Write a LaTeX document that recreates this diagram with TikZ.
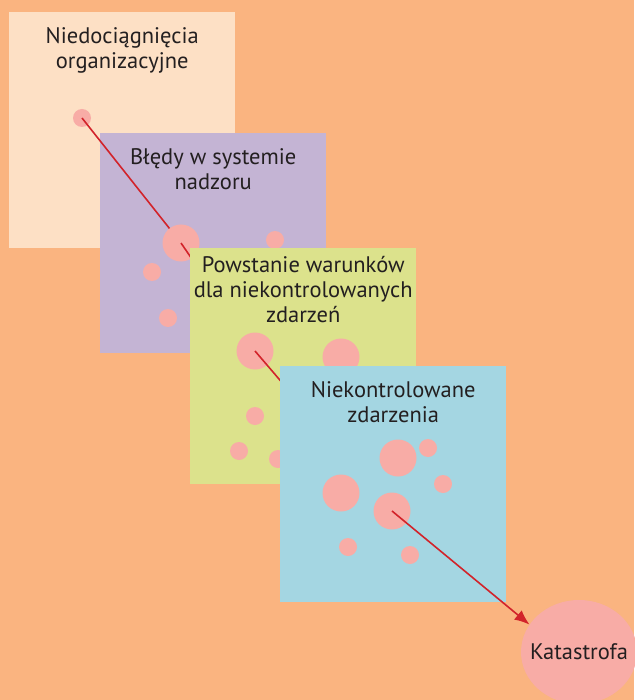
\documentclass[tikz,border=0pt]{standalone}
\usepackage{fontspec}
\setmainfont{PT Sans}
\usetikzlibrary{positioning, shapes.geometric, arrows.meta}
\definecolor{bgorange}{HTML}{FAB480}
\definecolor{peach}{HTML}{FDE0C5}
\definecolor{lavender}{HTML}{C4B4D4}
\definecolor{limegreen}{HTML}{DCE28C}
\definecolor{skyblue}{HTML}{A4D6E2}
\definecolor{spotpink}{HTML}{F8ACA6}
\definecolor{linkred}{HTML}{D2232A}
\definecolor{darktext}{HTML}{231F20}
\tikzset{
	panel/.style={draw=none, inner sep=0pt, minimum width=226pt, anchor=north west}
}
\tikzset{
	spot/.style={circle, fill=spotpink, inner sep=0pt, minimum size=18pt},
	bigspot/.style={spot, minimum size=37pt}
}
\tikzset{
	paneltext/.style={font=\fontsize{22.5}{25}\selectfont\color{darktext}, align=center, anchor=north, inner sep=0pt},
	link/.style={draw=linkred, line width=1.6pt}
}

\begin{document}
\begin{tikzpicture}[x=1pt, y=-1pt]
      \useasboundingbox[fill=bgorange] (0,0) rectangle (634,700);
      % organisational layer
      \node[panel, fill=peach, minimum height=236pt] (p1) at (9,12) {};
      \node[paneltext] (t1) at ([yshift=-15pt]p1.north) {Niedociągnięcia\\organizacyjne};
      \node[spot] (s1) at (82,118) {};
      % supervision layer
      \node[panel, fill=lavender, minimum height=220pt] (p2) at (100,133) {};
      \node[paneltext] (t2) at ([yshift=-15.5pt]p2.north) {Błędy w systemie\\nadzoru};
      \draw[link] (s1.center) -- (181,243);
      \node[bigspot] (b2) at (181,243) {};
      \node[spot] (s2a) at (275,240) {};
      \node[spot] (s2b) at (152,272) {};
      \node[spot] (s2c) at (168,318) {};
      \draw[link] (b2.center) -- (255,351);
      % conditions layer
      \node[panel, fill=limegreen, minimum height=236pt] (p3) at (190,248) {};
      \node[paneltext] (t3) at ([yshift=-8.5pt]p3.north) {Powstanie warunków\\dla niekontrolowanych\\zdarzeń};
      \node[bigspot] (b3) at (255,351) {};
      \node[bigspot] (b3a) at (341,357) {};
      \node[spot] (s3a) at (255,416) {};
      \node[spot] (s3b) at (239,451) {};
      \node[spot] (s3c) at (278,459) {};
      \draw[link] (b3.center) -- (392,511);
      % events layer
      \node[panel, fill=skyblue, minimum height=236pt] (p4) at (280,366) {};
      \node[paneltext] (t4) at ([yshift=-15.5pt]p4.north) {Niekontrolowane\\zdarzenia};
      \node[bigspot] (b4a) at (398,458) {};
      \node[spot] (s4a) at (428,448) {};
      \node[bigspot] (b4b) at (341,493) {};
      \node[spot] (s4b) at (443,484) {};
      \node[bigspot] (b4) at (392,511) {};
      \node[spot] (s4c) at (348,547) {};
      \node[spot] (s4d) at (410,555) {};
      % outcome
      \node[ellipse, fill=spotpink, inner ysep=0pt, inner xsep=-12pt, minimum width=116pt, minimum height=104pt,
            font=\fontsize{22.5}{25}\selectfont\color{darktext}] (kat) at (579,652) {Katastrofa};
      \draw[link, -{Latex[length=15pt, width=12pt]}] (b4.center) -- (kat.151);
    \end{tikzpicture}
\end{document}
